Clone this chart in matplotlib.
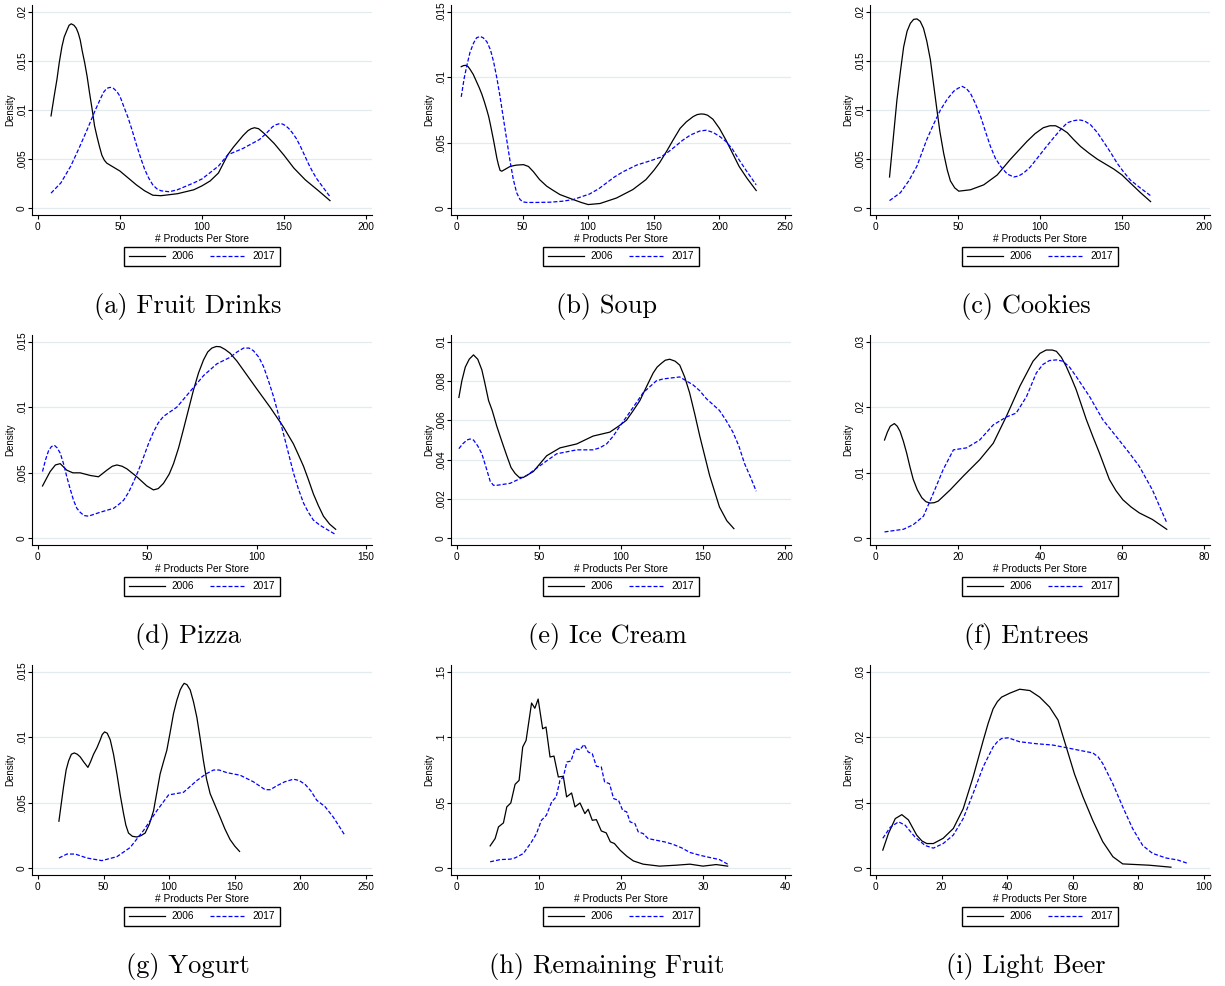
import numpy as np
import matplotlib
matplotlib.use("Agg")
import matplotlib.pyplot as plt

plt.rcParams["font.family"] = ["Liberation Sans", "DejaVu Sans"]

# kernel density estimates: (# products per store, density)
fruit_drinks_2006 = [(8, .0094), (10, .0115), (11.6, .0131), (13, .0148), (14.6, .0164), (16, .0174),
                     (17.7, .0181), (19, .0186), (20.3, .01875), (22, .0186), (23.4, .0183),
                     (24.6, .0178), (25.8, .0171), (27, .0160), (28.5, .0148), (30, .0134),
                     (31.5, .0117), (33.3, .0098), (34.5, .0084), (36, .0073), (37.5, .0063),
                     (39, .0054), (40.5, .0049), (42, .0046), (46, .0042), (50, .0038), (55, .0031),
                     (60, .0024), (65, .0018), (70, .00135), (75, .0013), (85, .0015), (95, .0019),
                     (100, .0023), (105, .0028), (110, .0036), (115.7, .00545), (119, .0062),
                     (122, .0068), (125, .0074), (128, .0079), (130, .0081), (132, .0082),
                     (134.5, .0081), (138, .0076), (141, .0071), (144, .0066), (150, .0054),
                     (156, .0041), (163, .0029), (171, .0018), (178, .0008)]
fruit_drinks_2017 = [(8, .00156), (14, .0026), (20, .0043), (25, .0061), (30, .0080), (35, .0100),
                     (38, .0111), (40, .0118), (42, .0122), (44, .0123), (46, .0122), (48, .0119),
                     (50, .0114), (52, .0105), (55, .0092), (57.5, .0079), (60, .0065),
                     (62.5, .0052), (65, .0040), (67.5, .0031), (70, .0024), (72.5, .0020),
                     (75, .0018), (80, .0017), (85, .0019), (95, .0026), (100, .0030), (110, .0043),
                     (115.7, .00545), (125, .0061), (135, .0070), (139, .0076), (143, .0083),
                     (145, .0085), (147, .0086), (149, .00858), (151, .0084), (153, .0081),
                     (155, .0077), (157.5, .0071), (160, .0063), (162.5, .0054), (165, .0045),
                     (167.5, .0037), (170, .0030), (174, .0021), (178, .0012)]

soup_2006 = [(3.3, .0108), (5, .01088), (6.8, .0109), (8.5, .0108), (10, .0106), (12.5, .0102),
             (15.2, .0096), (17, .0092), (19, .0087), (21, .0081), (22.8, .0075), (24.2, .0070),
             (25.5, .0064), (26.7, .0058), (27.9, .0052), (29.2, .0045), (30.5, .0038), (31.7, .0033),
             (32.9, .0029), (34.2, .00284), (37, .0030), (40.5, .0032), (45, .0033), (50.7, .00334),
             (54.5, .0032), (58.3, .0028), (63, .0022), (68.4, .0017), (73, .0014), (78.5, .00106),
             (88.6, .00068), (95, .00045), (100, .0003), (109, .00038), (121.6, .0008),
             (134, .00144), (144, .0022), (150, .0029), (154.5, .0035), (160, .0044),
             (164.6, .0052), (170, .0061), (174.8, .0066), (180, .0070), (183, .00715), (186, .0072),
             (188.5, .00718), (191, .0071), (195, .0068), (200, .0061), (205, .0052), (210, .0042),
             (215, .0032), (221, .0023), (228, .00137)]
soup_2017 = [(3.3, .0085), (5.5, .0099), (7.6, .0109), (10, .0119), (12.7, .0126), (15, .0130),
             (17.7, .0131), (20, .0130), (22.8, .0127), (25.5, .0121), (27.9, .0112), (30.5, .0099),
             (32.9, .0085), (35.5, .0068), (38, .0052), (40.5, .0036), (43, .0022), (45.5, .0012),
             (48.1, .00068), (50.5, .0005), (53.2, .00046), (60, .00046), (70.9, .00048),
             (80, .00055), (88.6, .00068), (95, .0009), (101, .0011), (108, .0015), (114, .00195),
             (120, .0024), (126.6, .0028), (136.8, .0033), (149.4, .0037), (155, .0039),
             (159.6, .0042), (166, .0047), (172, .0052), (178, .0056), (185, .0059), (190, .00596),
             (195, .0058), (200, .0055), (205, .0051), (210, .0045), (215, .0037), (221, .0028),
             (228, .0018)]

cookies_2006 = [(8.3, .0032), (10.5, .0070), (12.8, .0110), (15, .0140), (16.9, .0164), (19, .0180),
                (21, .0188), (23, .0192), (25, .01925), (27, .0190), (29, .0183), (31, .0170),
                (33.2, .0151), (35, .0128), (37.2, .0100), (39, .0078), (41.3, .0056), (43.5, .0039),
                (45.4, .0028), (48, .0021), (50.5, .00176), (57.6, .0019), (65.7, .0024),
                (73.9, .0034), (82, .0050), (87, .0059), (92, .0068), (97, .0076), (102, .0082),
                (106, .0084), (109.5, .0084), (113, .0081), (116.6, .0077), (120.5, .0070),
                (124.7, .0063), (130, .0056), (135, .0050), (140, .0045), (145, .0040), (150, .0034),
                (155, .0026), (161.3, .0016), (167.4, .0007)]
cookies_2017 = [(8.3, .0008), (14.9, .0016), (20, .0028), (25, .0043), (31, .0070), (35, .0085),
                (39.3, .0100), (43.5, .0111), (47.4, .0119), (50, .0122), (52.5, .0124), (55, .0122),
                (57.6, .0117), (60.5, .0107), (63.7, .0094), (66.8, .0078), (69.8, .0063),
                (72.8, .0051), (75.9, .0043), (80, .0035), (84, .0032), (87, .0033), (90, .0036),
                (94, .0042), (98.3, .0051), (103, .0061), (108.4, .0072), (112.5, .0080),
                (116.6, .0087), (120, .0089), (123.7, .0090), (127, .0089), (130.8, .0085),
                (135, .0077), (139, .0067), (143, .0057), (147, .0046), (151, .0037), (155, .0029),
                (161, .0021), (167.4, .0013)]

pizza_2006 = [(2.1, .0040), (5.6, .0051), (8, .0056), (10.2, .0057), (13.2, .0052), (16, .0050),
              (19.3, .0050), (23.9, .0048), (27.7, .0047), (31.5, .0052), (34, .0055), (36.1, .0056),
              (38.5, .0055), (40.7, .0053), (45.2, .0047), (49.8, .0040), (52.8, .0037), (55, .0038),
              (57.4, .0042), (60, .0049), (62, .0057), (64.3, .0069), (66.5, .0083), (68.8, .0098),
              (71.1, .0113), (73.4, .0126), (75.7, .0136), (77.6, .0142), (79.5, .0145),
              (81.5, .01462), (83.3, .0146), (85.5, .0144), (87.9, .0141), (91, .0135), (94, .0128),
              (100, .0114), (106.1, .0100), (112.2, .0085), (116.8, .0072), (119, .0064),
              (121.4, .0055), (123.6, .0045), (125.9, .0034), (128.2, .0025), (130.5, .0017),
              (133.3, .0011), (136.1, .0007)]
pizza_2017 = [(2.1, .0051), (3.5, .0060), (4.9, .0067), (6.2, .0070), (7.5, .0071), (8.8, .0069),
              (10.2, .0065), (11.7, .0057), (13.2, .0047), (14.7, .0038), (16.3, .0029),
              (17.8, .0023), (19.3, .0020), (21, .00175), (23.1, .0017), (28.5, .0020), (34.6, .0023),
              (37, .0026), (39.1, .0029), (41.4, .0035), (43.7, .0043), (46, .0052), (48.3, .0062),
              (50.5, .0072), (52.8, .0081), (55, .0088), (57.4, .0093), (63.5, .0100), (69.6, .0112),
              (75.7, .0124), (81.8, .0133), (87.9, .0138), (91, .0142), (94, .0145), (96.5, .0145),
              (98.5, .0143), (101, .0138), (103.1, .0131), (105.4, .0120), (107.7, .0108),
              (110, .0094), (112.2, .0080), (114.5, .0065), (116.8, .0050), (119, .0038),
              (121.4, .0027), (123.6, .0020), (125.9, .0014), (129, .0010), (132, .0007),
              (136.1, .0003)]

ice_cream_2006 = [(1.2, .00716), (3, .0080), (5.1, .0087), (7.5, .0091), (10.1, .00932),
                  (12.7, .0091), (15.2, .00856), (17, .0079), (19.3, .0070), (21.5, .0065),
                  (24.3, .0057), (27.5, .0049), (30.4, .0042), (33, .0036), (35.5, .0033),
                  (38, .0031), (40.5, .0031), (46.6, .0034), (54.7, .0042), (62.8, .0046),
                  (73, .0048), (83, .0052), (93.2, .0054), (98.5, .0057), (103.3, .0060),
                  (107.5, .0065), (111.5, .0070), (115.5, .0077), (119.6, .0084), (122, .0087),
                  (124.7, .0089), (127, .00905), (129.7, .0091), (133, .0090), (135.8, .0088),
                  (138.8, .0082), (141.8, .0074), (145, .0063), (148, .0052), (151, .0042),
                  (154, .0032), (157, .0024), (160, .0016), (164.5, .0009), (168.8, .0005)]
ice_cream_2017 = [(1.2, .00456), (3.5, .0048), (6.1, .0050), (8, .00505), (10.1, .0050),
                  (12.7, .0047), (15.2, .0043), (17.8, .0036), (20.3, .0029), (22.3, .0027),
                  (24.3, .0027), (32.4, .0028), (42.6, .0032), (50.7, .0037), (55.7, .0040),
                  (60.8, .0043), (67, .0044), (73, .0045), (83, .0045), (87, .0046), (91.2, .0048),
                  (95.3, .0052), (99.3, .0057), (104.4, .0063), (109.4, .0069), (113.5, .0074),
                  (117.5, .0077), (121.5, .0080), (125.6, .0081), (130.7, .00815), (135.8, .0082),
                  (139.8, .0080), (143.9, .0078), (148, .0075), (152, .0071), (156, .0068),
                  (160, .0065), (164, .0060), (168.2, .0054), (171.8, .0047), (175.3, .0038),
                  (179, .0031), (182.4, .0024)]

entrees_2006 = [(2.1, .0150), (2.8, .0162), (3.5, .0171), (4.5, .0175), (5.2, .0171), (5.9, .0163),
                (6.7, .0148), (7.5, .0130), (8.3, .0109), (9.1, .0090), (10.1, .0074), (11.2, .0062),
                (12.2, .0056), (13.2, .0054), (14.2, .00545), (15.2, .0057), (18.1, .0074),
                (21.3, .0095), (25.3, .0120), (28.6, .0145), (31.8, .0186), (35.1, .0232),
                (38.3, .0270), (40, .0282), (41.5, .0287), (43, .0287), (44, .0285), (45.2, .0276),
                (46.4, .0262), (47.6, .0245), (48.8, .0227), (50, .0205), (51.3, .0181),
                (52.9, .0155), (54.5, .0130), (55.7, .0110), (56.9, .0090), (58.5, .0073),
                (60.2, .0059), (62.2, .0048), (64.2, .0039), (67.4, .0029), (70.9, .0014)]
entrees_2017 = [(2.1, .0010), (4.3, .0012), (6.7, .0014), (9.1, .0021), (11.6, .0034), (14, .0069),
                (16.4, .0105), (18.9, .0135), (22.1, .0138), (25.3, .0150), (28.6, .0173),
                (31.8, .0185), (34.2, .0191), (36.7, .0216), (39.1, .0252), (40.7, .0265),
                (42.3, .0271), (44, .0272), (45.6, .0270), (47.2, .0261), (48.8, .0247),
                (52.1, .0216), (55.3, .0181), (58.5, .0156), (61.8, .0130), (64.2, .0110),
                (67.4, .0074), (70.9, .0024)]

yogurt_2006 = [(16, .0036), (19.5, .0062), (21.5, .0075), (23.4, .0082), (25.5, .0087), (27.7, .0088),
               (30, .0087), (32.2, .0085), (35, .0081), (38.1, .0077), (40, .0081), (42.4, .0087),
               (45, .0092), (47.5, .0098), (49, .0102), (50.8, .0104), (52.8, .0103), (55.1, .0098),
               (57.6, .0087), (60.2, .0072), (62.7, .0056), (65.2, .0042), (67, .0033), (69, .0027),
               (72, .00245), (75.4, .0024), (78.5, .0025), (81.7, .0027), (85, .0034), (88.1, .0044),
               (90.6, .0058), (93.1, .0072), (95.6, .0081), (98.2, .0090), (100.8, .0104),
               (103.3, .0118), (105.8, .0128), (108.4, .0136), (110, .0139), (111.4, .0141),
               (113.5, .0140), (116, .0136), (118.5, .0127), (121.1, .0115), (123.6, .0099),
               (126.1, .0082), (128.5, .0068), (131.2, .0057), (135, .0048), (138.8, .0039),
               (142.5, .0030), (146.4, .0022), (150, .0017), (153.6, .0013)]
yogurt_2017 = [(16, .0008), (22.1, .0011), (28.4, .0011), (37.3, .0008), (48.7, .0006), (60.2, .0009),
               (70.3, .0016), (80.5, .0029), (90.6, .0044), (99.5, .0056), (110.9, .0058),
               (121.1, .0067), (128, .0072), (133.8, .0075), (138, .0075), (143.9, .0073),
               (154.1, .0071), (164.2, .0066), (173.1, .0060), (177, .0060), (182, .0063),
               (188, .0066), (194.7, .0068), (199, .0067), (203.6, .0064), (208, .0059),
               (212.4, .0052), (218.8, .0047), (225.1, .0039), (234, .0025)]

fruit_2006 = [(4.05, .0172), (4.66, .0228), (5.07, .0317), (5.67, .0347), (6.08, .0469), (6.57, .0499),
              (7.09, .0641), (7.58, .0671), (8.02, .0925), (8.43, .0975), (9.1, .126), (9.5, .122),
              (9.9, .129), (10.45, .1064), (10.86, .1077), (11.35, .0849), (11.83, .0856),
              (12.36, .0697), (12.97, .0702), (13.37, .0545), (13.98, .0575), (14.39, .0469),
              (15, .0499), (15.6, .0418), (16, .0451), (16.5, .0367), (17, .0372), (17.6, .0286),
              (18.2, .0271), (18.7, .0203), (19.2, .0190), (19.9, .0139), (20.7, .0094),
              (21.5, .0058), (22.7, .0033), (24.7, .0018), (26.7, .0025), (28.4, .0033),
              (30, .0018), (31.6, .0030), (33, .0018)]
fruit_2017 = [(4.05, .0051), (5.3, .0068), (6.5, .0071), (7.1, .0081), (8.1, .0114), (9.1, .0203),
              (9.7, .0266), (10.3, .0367), (10.9, .0405), (11.55, .0507), (12.1, .0545),
              (12.56, .0671), (12.97, .0697), (13.4, .0811), (13.9, .0818), (14.4, .0912),
              (15, .0904), (15.5, .0945), (16, .0887), (16.5, .0874), (17, .0778), (17.6, .0773),
              (18, .0659), (18.6, .0646), (19.1, .0532), (19.7, .0519), (20.2, .0443),
              (20.7, .0431), (21.1, .0355), (21.7, .0342), (22.1, .0279), (22.7, .0266),
              (23.3, .0228), (24.3, .0215), (25.3, .0203), (26.3, .0185), (27.4, .0157),
              (28.4, .0122), (29.6, .0101), (30.8, .0084), (32, .0068), (33, .0033)]

light_beer_2006 = [(2.1, .0028), (3.8, .0053), (5.9, .0076), (7.9, .0082), (9.9, .0074), (12.4, .0051),
                   (14, .0042), (15.5, .0038), (17.5, .0038), (20.5, .0046), (23.6, .0061),
                   (26.6, .0091), (29.6, .0139), (32.7, .0195), (34.2, .0221), (35.7, .0243),
                   (37, .0254), (38.3, .0261), (40.8, .0267), (43.8, .0273), (46.9, .0271),
                   (49.9, .0261), (52.9, .0246), (55.5, .0226), (58, .0185), (60.5, .0144),
                   (63.1, .0109), (66.1, .0073), (69.1, .0041), (72.2, .0018), (75.2, .0007),
                   (79.3, .0006), (83.3, .0005), (89.9, .0002)]
light_beer_2017 = [(2.1, .0046), (4.4, .0063), (6.9, .0071), (8.9, .0066), (11.9, .0048), (15, .0035),
                   (17.5, .0031), (20.5, .0038), (23.6, .0051), (26.6, .0076), (29.6, .0114),
                   (32.7, .0155), (35.7, .0185), (37, .0193), (38.3, .0198), (40.3, .0199),
                   (43.8, .0193), (48.9, .0190), (53.9, .0188), (58, .0184), (62, .0180),
                   (66.1, .0176), (67.7, .0170), (69.1, .0160), (72.2, .0129), (75.2, .0094),
                   (78.2, .0061), (81.3, .0035), (84.3, .0023), (88.4, .0016), (91.9, .0013),
                   (94.9, .0008)]

# caption, 2006 curve, 2017 curve, x max, x step, y max, y step
panels = [
    ("(a) Fruit Drinks", fruit_drinks_2006, fruit_drinks_2017, 200, 50, .02, .005),
    ("(b) Soup", soup_2006, soup_2017, 250, 50, .015, .005),
    ("(c) Cookies", cookies_2006, cookies_2017, 200, 50, .02, .005),
    ("(d) Pizza", pizza_2006, pizza_2017, 150, 50, .015, .005),
    ("(e) Ice Cream", ice_cream_2006, ice_cream_2017, 200, 50, .01, .002),
    ("(f) Entrees", entrees_2006, entrees_2017, 80, 20, .03, .01),
    ("(g) Yogurt", yogurt_2006, yogurt_2017, 250, 50, .015, .005),
    ("(h) Remaining Fruit", fruit_2006, fruit_2017, 40, 10, .15, .05),
    ("(i) Light Beer", light_beer_2006, light_beer_2017, 100, 20, .03, .01),
]


def stata_label(v):
    s = f"{v:g}"
    return s[1:] if s.startswith("0.") else s


W, H = 1225, 986
fig = plt.figure(figsize=(W / 100, H / 100), dpi=100)

col_left = [32, 451, 870]
row_top = [5, 335, 665]
ax_w, ax_h = 340, 210
caption_x = [188, 607, 1026]
caption_y = [306, 636, 966]

for i, (caption, d06, d17, xmax, xstep, ymax, ystep) in enumerate(panels):
    r, c = divmod(i, 3)
    ax = fig.add_axes([col_left[c] / W, 1 - (row_top[r] + ax_h) / H, ax_w / W, ax_h / H])

    x06, y06 = zip(*d06)
    x17, y17 = zip(*d17)
    ax.plot(x06, y06, color="black", lw=0.9, solid_joinstyle="round", label="2006")
    ax.plot(x17, y17, color="blue", lw=0.9, dashes=(3.2, 1.6), dash_joinstyle="round",
            label="2017")

    xt = np.arange(0, xmax + xstep / 2, xstep)
    yt = np.round(np.arange(0, ymax + ystep / 2, ystep), 6)
    ax.set_xticks(xt)
    ax.set_xticklabels([f"{v:g}" for v in xt])
    ax.set_yticks(yt)
    ax.set_yticklabels([stata_label(v) for v in yt], rotation=90, va="center")
    ax.set_xlim(-0.018 * xmax, 1.018 * xmax)
    ax.set_ylim(-0.033 * ymax, 1.033 * ymax)

    ax.grid(axis="y", color="#e2ebed", lw=0.9)
    ax.set_axisbelow(True)
    for s in ["top", "right"]:
        ax.spines[s].set_visible(False)
    for s in ["left", "bottom"]:
        ax.spines[s].set_linewidth(0.8)
    ax.tick_params(length=3.2, width=0.8, labelsize=7.3)
    ax.tick_params(axis="y", pad=0.5)
    ax.tick_params(axis="x", pad=2)

    ax.set_xlabel("# Products Per Store", fontsize=7.3, labelpad=1.5)
    ax.set_ylabel("Density", fontsize=7, labelpad=1)

    leg = ax.legend(loc="upper center", bbox_to_anchor=(0.5, -0.152), borderaxespad=0,
                    ncol=2, fontsize=7.3, handlelength=3.6, handletextpad=0.65,
                    columnspacing=1.5, borderpad=0.45, fancybox=False, framealpha=1,
                    edgecolor="black")
    leg.get_frame().set_linewidth(1.0)

    fig.text(caption_x[c] / W, 1 - caption_y[r] / H, caption, ha="center", va="center",
             family="cmr10", fontsize=19)

fig.savefig("out.png", dpi=100)
